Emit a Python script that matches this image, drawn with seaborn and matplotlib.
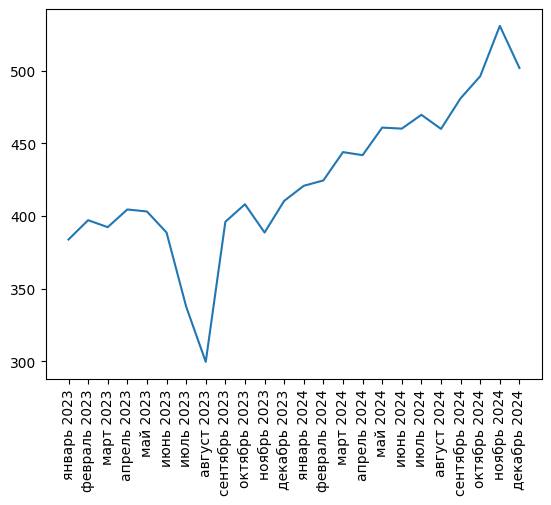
import matplotlib
matplotlib.use("Agg")
import matplotlib.pyplot as plt
import seaborn as sns
import pandas as pd

months = ["январь 2023", "февраль 2023", "март 2023", "апрель 2023", "май 2023",
          "июнь 2023", "июль 2023", "август 2023", "сентябрь 2023", "октябрь 2023",
          "ноябрь 2023", "декабрь 2023", "январь 2024", "февраль 2024", "март 2024",
          "апрель 2024", "май 2024", "июнь 2024", "июль 2024", "август 2024",
          "сентябрь 2024", "октябрь 2024", "ноябрь 2024", "декабрь 2024"]
values = [383.8, 397.1, 392.3, 404.5, 403.1, 388.6, 337.6, 299.5, 396.0, 408.1,
          388.6, 410.4, 420.8, 424.5, 444.0, 441.9, 460.9, 460.2, 469.7, 460.0,
          481.1, 496.3, 531.0, 502.0]

df = pd.DataFrame({"month": months, "value": values})

fig, ax = plt.subplots(figsize=(6.4, 4.8), dpi=100)
sns.lineplot(data=df, x="month", y="value", ax=ax, sort=False)
ax.set_xlabel("")
ax.set_ylabel("")
ax.set_xticks(range(len(months)))
ax.set_xticklabels(months, rotation=90)
fig.savefig("out.png", dpi=100, bbox_inches="tight")
